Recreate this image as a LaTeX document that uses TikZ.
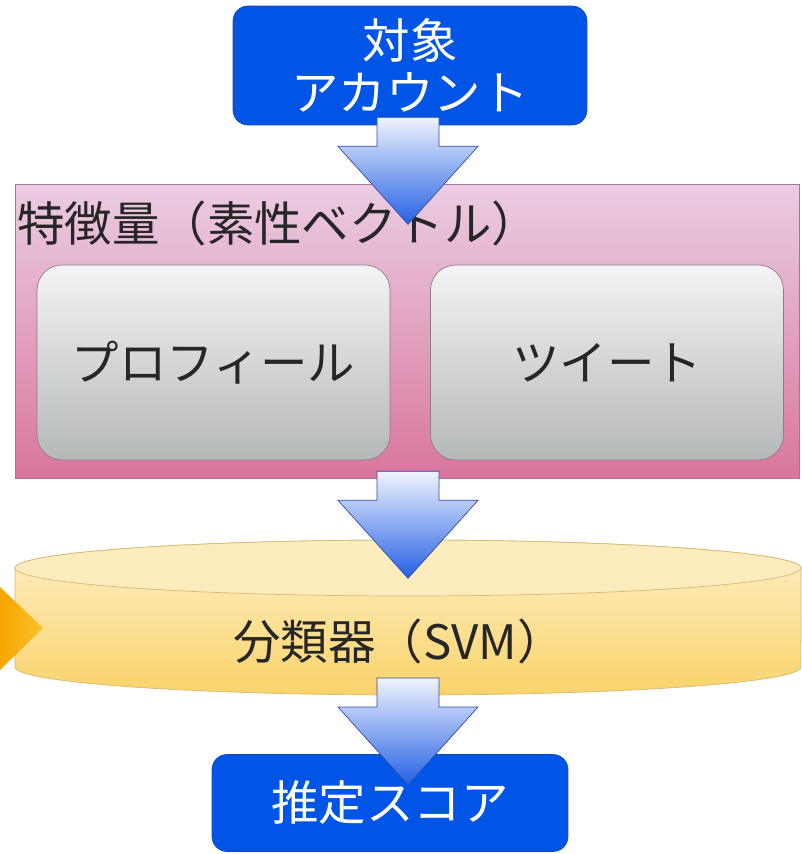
\documentclass[tikz,border=0pt]{standalone}
\usepackage{fontspec}
\newfontfamily\jpfont{Noto Sans CJK JP}
\usetikzlibrary{positioning}

\definecolor{boxblue}{HTML}{0055E6}
\definecolor{boxblueline}{HTML}{1746B0}
\definecolor{arrowtop}{HTML}{F0F4FD}
\definecolor{arrowbot}{HTML}{2460E4}
\definecolor{arrowline}{HTML}{2F4CA6}
\definecolor{pinktop}{HTML}{EBCDE2}
\definecolor{pinkbot}{HTML}{D9769D}
\definecolor{pinkline}{HTML}{9E7A8E}
\definecolor{graytop}{HTML}{F4F4F4}
\definecolor{graybot}{HTML}{B5B8B8}
\definecolor{grayline}{HTML}{8C7C88}
\definecolor{cyltop}{HTML}{FDF0C8}
\definecolor{cylbot}{HTML}{FAD36A}
\definecolor{cyllid}{HTML}{FDEDBE}
\definecolor{cylline}{HTML}{D6B872}
\definecolor{orangeL}{HTML}{F5A600}
\definecolor{orangeR}{HTML}{FDC02A}

\tikzset{pics/flowarrow/.style={code={
    \path[flow] (-31,0) -- (31,0) -- (31,29) -- (70,29) -- (0,107) -- (-70,29) -- (-31,29) -- cycle;
}}}

\begin{document}
\begin{tikzpicture}[x=0.02cm,y=-0.02cm]
    \tikzstyle{bluebox}=[draw=boxblueline,fill=boxblue,rounded corners=0.3cm,text=white,align=center,inner sep=0pt,font=\jpfont\fontsize{27}{29.5}\selectfont]
    \tikzstyle{graybox}=[draw=grayline,top color=graytop,bottom color=graybot,rounded corners=0.5cm,minimum width=7.06cm,minimum height=3.9cm,text=black!85,font=\jpfont\fontsize{27}{30}\selectfont]
    \tikzstyle{flow}=[draw=arrowline,top color=arrowtop,bottom color=arrowbot]
    \tikzstyle{label}=[text=black!85,inner sep=0pt,font=\jpfont\fontsize{27}{30}\selectfont]
    \useasboundingbox (0,0) rectangle (801,854);

    % feature frame
    \node[draw=pinkline,top color=pinktop,bottom color=pinkbot,minimum width=15.68cm,minimum height=5.88cm,inner sep=0pt] (feat) at (407,331) {};
    \node[label,anchor=west] (feat-title) at (17,223) {特徴量（素性ベクトル）};

    \foreach \name/\x/\txt in {prof/213.5/プロフィール, tweet/607/ツイート}
        \node[graybox] (\name) at (\x,362.5) {\txt};

    % classifier
    \coordinate (cyl) at (408,568);
    \coordinate (cylbase) at (408,667);
    \path[draw=cylline,top color=cyltop,bottom color=cylbot] (15,568) -- (15,667)
        arc[start angle=180,end angle=360,x radius=7.86cm,y radius=0.56cm] -- (801,568)
        arc[start angle=0,end angle=180,x radius=7.86cm,y radius=0.56cm] -- cycle;
    \path[draw=cylline,fill=cyllid] (cyl) ellipse [x radius=7.86cm,y radius=0.56cm];
    \node[label] (svm) at (399,641) {分類器（SVM）};

    \path[left color=orangeL,right color=orangeR] (0,587) -- (43,628) -- (0,670) -- cycle;

    \node[bluebox,minimum width=7.08cm,minimum height=2.38cm] (acct) at (410,65.5) {対象\\アカウント};
    \node[bluebox,minimum width=7.12cm,minimum height=1.94cm] (score) at (390,803) {推定スコア};

    \pic at ([yshift=0.16cm]acct.south -| cyl) {flowarrow};
    \pic at ([yshift=0.14cm]feat.south -| cyl) {flowarrow};
    \pic at ([yshift=-0.22cm]cylbase) {flowarrow};
\end{tikzpicture}
\end{document}
